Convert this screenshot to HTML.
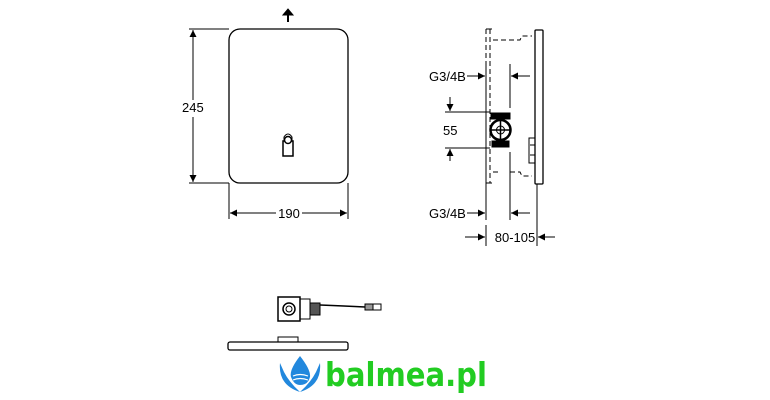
<!DOCTYPE html>
<html><head><meta charset="utf-8"><style>html,body{margin:0;padding:0;background:#fff}svg{display:block}</style></head>
<body>
<svg width="770" height="400" viewBox="0 0 770 400" xmlns="http://www.w3.org/2000/svg" font-family="Liberation Sans, sans-serif">
<defs>
<marker id="a" viewBox="0 0 10 10" refX="10" refY="5" markerWidth="13" markerHeight="7" markerUnits="userSpaceOnUse" orient="auto-start-reverse"><path d="M0,0L10,5L0,10z" fill="#000"/></marker>
</defs>
<g stroke="#000" fill="none" stroke-width="1">
<rect x="229" y="29" width="119" height="154" rx="11" stroke-width="1.3"/>
<path d="M288,22V14" stroke-width="2"/><path d="M283,15L288,9L293,15z" fill="#000"/>
<rect x="283" y="141" width="10" height="15" stroke-width="1.5"/>
<circle cx="288" cy="140" r="3.5" stroke-width="1.5" fill="#fff"/>
<path d="M284,141V137Q288,131 292,137V141"/>
<path d="M189,29H229M189,183H229"/>
<path d="M193,100V30" marker-end="url(#a)"/>
<path d="M193,117V182" marker-end="url(#a)"/>
<path d="M229,183V219M348,183V219"/>
<path d="M276,213H230" marker-end="url(#a)"/>
<path d="M302,213H347" marker-end="url(#a)"/>
<path d="M486,29V183M490,29V183" stroke-dasharray="5,3"/>
<path d="M486,29H492M486,183H492"/>
<path d="M493,40H520L522,36H532M493,172H500M510,172H520L522,176H532" stroke-dasharray="5,3"/>
<rect x="535" y="30" width="8" height="154" rx="1" stroke-width="1.3"/>
<rect x="529" y="138" width="6" height="25"/>
<path d="M530,145H535M530,155H535"/>
<rect x="491" y="113" width="19" height="6" fill="#000"/>
<rect x="492" y="141" width="17" height="6" fill="#000"/>
<circle cx="500.5" cy="130" r="10" stroke-width="2.5"/>
<circle cx="500.5" cy="130" r="4"/>
<path d="M490,130H511M500.5,120V140" stroke-width="1.5"/>
<path d="M486,64V220M510,64V108M510,152V220M537,184V246"/>
<path d="M467,76H485" marker-end="url(#a)"/>
<path d="M530,76H511" marker-end="url(#a)"/>
<path d="M467,213H485" marker-end="url(#a)"/>
<path d="M530,213H511" marker-end="url(#a)"/>
<path d="M445,112H490M445,148H490"/>
<path d="M450,97V111" marker-end="url(#a)"/>
<path d="M450,161V149" marker-end="url(#a)"/>
<path d="M486,225V246"/>
<path d="M465,237H485" marker-end="url(#a)"/>
<path d="M555,237H538" marker-end="url(#a)"/>
<rect x="278" y="297" width="22" height="24" stroke-width="1.5"/>
<circle cx="289" cy="309" r="6" stroke-width="1.5"/>
<circle cx="289" cy="309" r="3"/>
<rect x="300" y="299" width="10" height="20"/>
<rect x="310" y="303" width="10" height="12" fill="#555"/>
<path d="M320,305Q345,306 365,307" stroke-width="1.5"/>
<rect x="365" y="304" width="8" height="6" fill="#999"/>
<rect x="373" y="304" width="8" height="6"/>
<rect x="278" y="337" width="20" height="5"/>
<rect x="228" y="342" width="120" height="8" rx="2" stroke-width="1.3"/>
</g>
<g font-size="13" fill="#000">
<text x="182" y="112">245</text>
<text x="289" y="218" text-anchor="middle">190</text>
<text x="429" y="81">G3/4B</text>
<text x="443" y="135">55</text>
<text x="429" y="218">G3/4B</text>
<text x="515" y="242" text-anchor="middle">80-105</text>
</g>
<g fill="#2288dd">
<path d="M300,356Q289,370 291,377Q294,385 300,385Q308,385 310,377Q311,370 300,356z"/>
<path d="M280,363Q278,385 300,392Q289,382 284,372z"/>
<path d="M320,363Q322,385 300,392Q311,382 316,372z"/>
</g>
<path d="M293,376Q300,373 308,376M293,380Q300,377 308,380" stroke="#fff" stroke-width="1.2" fill="none"/>
<text x="325" y="386" font-size="33" font-weight="bold" fill="#22cc22" font-family="DejaVu Sans, Liberation Sans, sans-serif" textLength="162" lengthAdjust="spacingAndGlyphs">balmea.pl</text>
</svg>
</body></html>
